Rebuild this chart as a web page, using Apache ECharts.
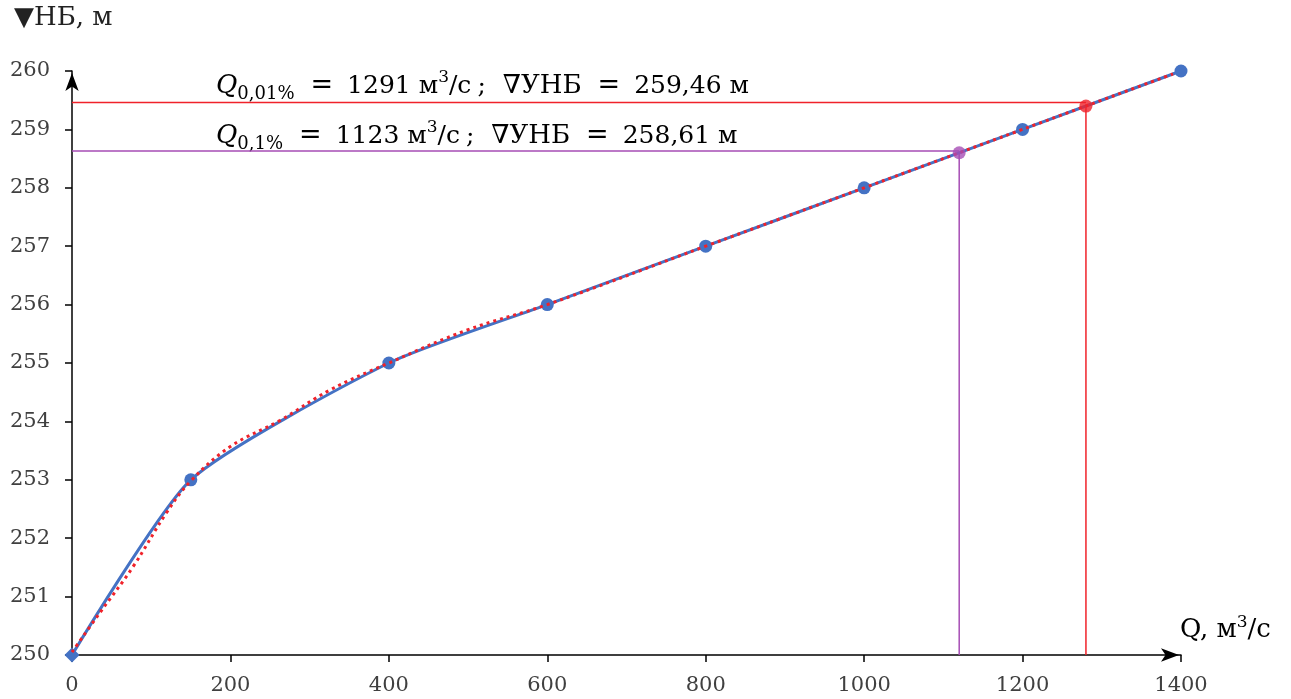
<!DOCTYPE html>
<html>
<head>
<meta charset="utf-8">
<script src="https://cdn.jsdelivr.net/npm/echarts@6/dist/echarts.min.js"></script>
<style>html,body{margin:0;padding:0;background:#fff;}#c{width:1291px;height:699px;}</style>
</head>
<body>
<div id="c"></div>
<script>
// Rating curve points (Q, m3/s ; level, m)
const qPoints = [0, 150, 400, 600, 800, 1000, 1200, 1400];
const zPoints = [250, 253, 255, 256, 257, 258, 259, 260];
// Trend (red dotted)
const trendQ = [0, 35, 77, 120, 150, 200, 263, 326, 400, 500, 600, 800, 1000, 1200, 1390];
const trendZ = [250.05, 250.72, 251.51, 252.45, 252.98, 253.57, 254.02, 254.54, 255.0, 255.57, 256.0, 257.0, 258.0, 259.0, 259.95];
// Design points
const q001 = 1280, z001Point = 259.40, z001Line = 259.46;
const q01 = 1120, z01Point = 258.60, z01Line = 258.63;
const xTicks = [0, 200, 400, 600, 800, 1000, 1200, 1400];
const yTicks = [250, 251, 252, 253, 254, 255, 256, 257, 258, 259, 260];

const blue = '#4472C4', red = '#F0222A', purple = '#A64DB5';
const serif = 'DejaVu Serif';

const chart = echarts.init(document.getElementById('c'), null, {renderer: 'canvas'});
const mainData = qPoints.map((q, i) => ({
  value: [q, zPoints[i]],
  symbol: i === 0 ? 'diamond' : 'circle',
  symbolSize: i === 0 ? 15 : 13
}));
const trendData = trendQ.map((q, i) => [q, trendZ[i]]);

const base = {fontFamily: serif, fontSize: 25, lineHeight: 34, verticalAlign: 'middle', color: '#000'};
const txt = {
  q: Object.assign({}, base, {fontStyle: 'italic', fontSize: 26}),
  s: {fontFamily: serif, fontSize: 18, lineHeight: 15, verticalAlign: 'bottom', color: '#000'},
  e: Object.assign({}, base, {fontSize: 27, padding: [0, 14, 0, 16]}),
  m: base,
  sc: Object.assign({}, base, {padding: [0, 17, 0, 6]}),
  w: Object.assign({}, base, {fontSize: 26}),
  p: {fontFamily: serif, fontSize: 17, lineHeight: 15, verticalAlign: 'top', color: '#000'}
};

chart.setOption({
  animation: false,
  backgroundColor: '#fff',
  grid: {left: 72, right: 110, top: 71, bottom: 44},
  xAxis: {
    type: 'value', min: 0, max: 1400, interval: 200,
    splitLine: {show: false},
    axisLine: {lineStyle: {color: '#000', width: 1.5}, symbol: ['none', 'arrow'], symbolSize: [10, 18], symbolOffset: [0, -2]},
    axisTick: {show: true, length: 7, lineStyle: {color: '#000', width: 1.5}},
    axisLabel: {color: '#404040', fontFamily: serif, fontSize: 21, margin: 20,
      formatter: v => xTicks.includes(v) ? String(v) : ''}
  },
  yAxis: {
    type: 'value', min: 250, max: 260, interval: 1,
    splitLine: {show: false},
    axisLine: {lineStyle: {color: '#000', width: 1.5}, symbol: ['none', 'arrow'], symbolSize: [10, 18], symbolOffset: [0, -2]},
    axisTick: {show: true, length: 7, lineStyle: {color: '#000', width: 1.5}},
    axisLabel: {color: '#404040', fontFamily: serif, fontSize: 21, margin: 22,
      formatter: v => yTicks.includes(v) ? String(v) : ''}
  },
  series: [
    {type: 'line', data: [[0, z001Line], [q001, z001Line]], symbol: 'none', lineStyle: {color: red, width: 1.5}, z: 1},
    {type: 'line', data: [[q001, 250], [q001, z001Point]], symbol: 'none', lineStyle: {color: red, width: 1.5}, z: 1},
    {type: 'line', data: [[0, z01Line], [q01, z01Line]], symbol: 'none', lineStyle: {color: purple, width: 1.5}, z: 1},
    {type: 'line', data: [[q01, 250], [q01, z01Point]], symbol: 'none', lineStyle: {color: purple, width: 1.5}, z: 1},
    {type: 'line', data: mainData, smooth: 0.2, showAllSymbol: true,
      itemStyle: {color: blue}, lineStyle: {color: blue, width: 3}, z: 3},
    {type: 'line', data: trendData, smooth: 0.4, symbol: 'none',
      lineStyle: {color: red, width: 3, type: [3, 4]}, z: 4},
    {type: 'scatter', data: [[q001, z001Point]], symbolSize: 13, itemStyle: {color: red}, z: 5},
    {type: 'scatter', data: [[q01, z01Point]], symbolSize: 13, itemStyle: {color: purple}, z: 5}
  ],
  graphic: [
    {type: 'text', left: 14, top: 5, style: {text: '▼НБ, м', fontFamily: serif, fontSize: 26, fill: '#222'}},
    {type: 'text', left: 1180, top: 614, style: {
      text: '{m|Q, м}{p|3}{m|/с}',
      rich: {m: {fontFamily: serif, fontSize: 26, lineHeight: 32, verticalAlign: 'middle', color: '#222'},
             p: {fontFamily: serif, fontSize: 17, lineHeight: 14, verticalAlign: 'top', color: '#222'}}}},
    {type: 'text', left: 216, top: 69, style: {
      text: '{q|Q}{s|0,01%}{e|=}{m|1291 м}{p|3}{m|/с}{sc|;}{w|∇УНБ}{e|=}{m|259,46 м}', rich: txt}},
    {type: 'text', left: 216, top: 119, style: {
      text: '{q|Q}{s|0,1%}{e|=}{m|1123 м}{p|3}{m|/с}{sc|;}{w|∇УНБ}{e|=}{m|258,61 м}', rich: txt}}
  ]
});
</script>
</body>
</html>
